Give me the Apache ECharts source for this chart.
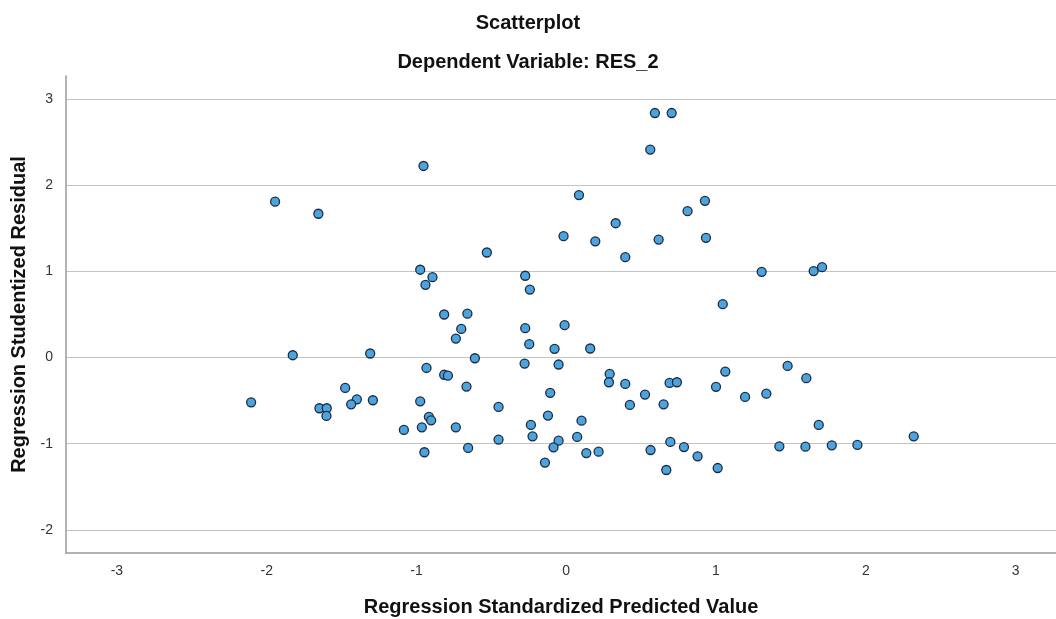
<!DOCTYPE html>
<html>
<head>
<meta charset="utf-8">
<script src="https://cdn.jsdelivr.net/npm/echarts@6/dist/echarts.min.js"></script>
<style>
html,body{margin:0;padding:0;background:#fff;}
#chart{width:1056px;height:619px;}
</style>
</head>
<body>
<div id="chart"></div>
<script>
// Regression Standardized Predicted Value (x) and Regression Studentized Residual (y)
const predicted = [
  -1.944, -1.655, -0.953, 0.592, 0.704, 0.561, 0.085, 0.926, 0.81, 0.33,
  -0.018, 0.194, 0.617, 0.933, 0.394, -0.53, -0.975, -0.893, -0.94, -0.274,
  -0.243, -0.815, -0.66, 1.045, 1.305, 1.652, 1.708, -1.826, -1.309, -2.104,
  -1.476, -1.648, -1.599, -1.601, -1.398, -1.436, -1.291, -0.701, -0.737, -0.274,
  -0.011, -0.247, -0.078, 0.16, -0.61, -0.278, -0.051, -0.933, -0.815, -0.79,
  -0.666, 0.29, 0.285, 0.394, 0.69, 0.739, 1.0, 0.526, 0.425, 0.65,
  -0.107, -0.975, -0.452, -0.917, -0.902, -0.964, -0.737, -1.084, -0.122, 0.102,
  -0.236, -0.225, 0.073, -0.051, -0.452, -0.085, -0.655, -0.947, 0.134, 0.216,
  -0.142, 0.563, 0.695, 0.786, 0.877, 0.668, 1.011, 1.062, 1.478, 1.603,
  1.194, 1.336, 1.686, 1.423, 1.597, 1.773, 1.944, 2.32
];
const residual = [
  1.81, 1.67, 2.225, 2.84, 2.84, 2.415, 1.887, 1.82, 1.70, 1.56,
  1.41, 1.35, 1.37, 1.39, 1.166, 1.22, 1.02, 0.934, 0.845, 0.95,
  0.79, 0.50, 0.51, 0.62, 0.996, 1.004, 1.05, 0.027, 0.047, -0.52,
  -0.353, -0.589, -0.589, -0.678, -0.485, -0.543, -0.496, 0.333, 0.22, 0.341,
  0.376, 0.155, 0.101, 0.105, -0.008, -0.07, -0.081, -0.12, -0.20, -0.21,
  -0.337, -0.19, -0.287, -0.306, -0.295, -0.287, -0.34, -0.43, -0.55, -0.543,
  -0.41, -0.508, -0.574, -0.69, -0.729, -0.81, -0.81, -0.841, -0.674, -0.733,
  -0.783, -0.915, -0.922, -0.965, -0.953, -1.043, -1.05, -1.10, -1.11, -1.093,
  -1.22, -1.074, -0.98, -1.04, -1.147, -1.306, -1.283, -0.163, -0.097, -0.24,
  -0.457, -0.419, -0.783, -1.031, -1.035, -1.02, -1.015, -0.915
];
const xTicks = [-3, -2, -1, 0, 1, 2, 3];
const yTicks = [-2, -1, 0, 1, 2, 3];

const points = predicted.map((x, i) => [x, residual[i]]);

const chart = echarts.init(document.getElementById('chart'), null, {renderer: 'canvas'});
chart.setOption({
  animation: false,
  backgroundColor: '#ffffff',
  title: [
    {
      text: 'Scatterplot',
      left: 'center',
      top: 8,
      textStyle: {fontFamily: 'Liberation Sans, Arial, sans-serif', fontSize: 20, fontWeight: 'bold', color: '#111'}
    },
    {
      text: 'Dependent Variable: RES_2',
      left: 'center',
      top: 47,
      textStyle: {fontFamily: 'Liberation Sans, Arial, sans-serif', fontSize: 20, fontWeight: 'bold', color: '#111'}
    }
  ],
  grid: {left: 66, right: 0, top: 76, bottom: 66, containLabel: false, outerBoundsMode: 'none'},
  xAxis: {
    type: 'value',
    min: -3.34,
    max: 3.27,
    name: 'Regression Standardized Predicted Value',
    nameLocation: 'middle',
    nameGap: 44,
    nameTextStyle: {fontFamily: 'Liberation Sans, Arial, sans-serif', fontSize: 20, fontWeight: 'bold', color: '#111'},
    axisLine: {show: true, onZero: false, lineStyle: {color: '#9a9a9a', width: 1.5}},
    axisTick: {show: false, customValues: xTicks},
    axisLabel: {customValues: xTicks, margin: 11, fontFamily: 'Liberation Sans, Arial, sans-serif', fontSize: 14, color: '#333'},
    splitLine: {show: false}
  },
  yAxis: {
    type: 'value',
    min: -2.27,
    max: 3.27,
    name: 'Regression Studentized Residual',
    nameLocation: 'middle',
    nameGap: 35,
    nameTextStyle: {fontFamily: 'Liberation Sans, Arial, sans-serif', fontSize: 20, fontWeight: 'bold', color: '#111'},
    axisLine: {show: true, onZero: false, lineStyle: {color: '#9a9a9a', width: 1.5}},
    axisTick: {show: false, customValues: yTicks},
    axisLabel: {customValues: yTicks, margin: 13, fontFamily: 'Liberation Sans, Arial, sans-serif', fontSize: 14, color: '#333'},
    splitLine: {show: true, lineStyle: {color: '#c4c4c4', width: 1.2}}
  },
  series: [{
    type: 'scatter',
    data: points,
    symbol: 'circle',
    symbolSize: 9,
    itemStyle: {color: '#4ca3de', borderColor: '#1b2c40', borderWidth: 1.3, opacity: 1}
  }]
});
</script>
</body>
</html>
